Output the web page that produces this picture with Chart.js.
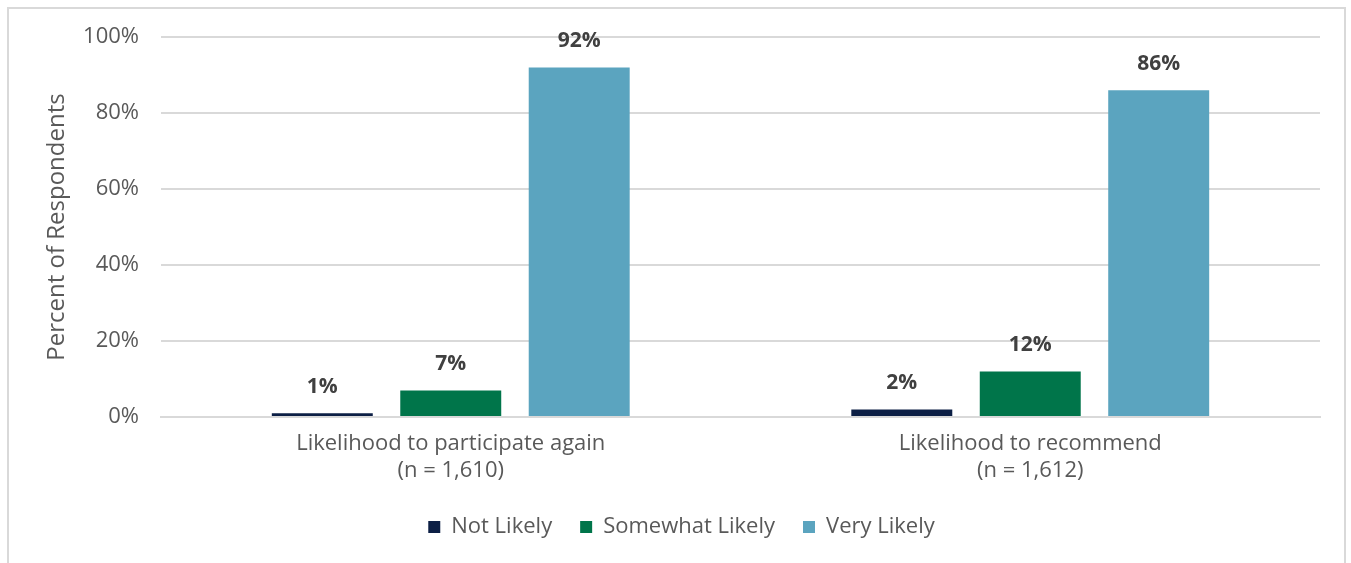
<!DOCTYPE html>
<html>
<head>
<meta charset="utf-8">
<script src="https://cdn.jsdelivr.net/npm/chart.js@4/dist/chart.umd.min.js"></script>
<style>
  html, body { margin: 0; padding: 0; background: #ffffff; overflow: hidden; }
  #wrap { position: relative; width: 1351px; height: 563px; }
  #frame { position: absolute; left: 7px; top: 7px; width: 1339px; height: 600px; border: 2px solid #d9d9d9; box-sizing: border-box; }
  #c { position: absolute; left: 0; top: 0; }
</style>
</head>
<body>
<div id="wrap">
  <div id="frame"></div>
  <canvas id="c" width="1351" height="563"></canvas>
</div>
<script>
const categories = [
  ["Likelihood to participate again", "(n = 1,610)"],
  ["Likelihood to recommend", "(n = 1,612)"]
];
const seriesNames = ["Not Likely", "Somewhat Likely", "Very Likely"];
const notLikely = [1, 2];
const somewhatLikely = [7, 12];
const veryLikely = [92, 86];
const yTicks = [0, 20, 40, 60, 80, 100];
const colors = ["#0c1f45", "#00754a", "#5ba4bf"];

const FONT = "'Open Sans', Roboto, sans-serif";

// Percent labels drawn above each bar
const valueLabels = {
  id: "valueLabels",
  afterDatasetsDraw(chart) {
    const ctx = chart.ctx;
    ctx.save();
    ctx.font = "bold 21px " + FONT;
    ctx.fillStyle = "#404040";
    ctx.textAlign = "center";
    ctx.textBaseline = "middle";
    chart.data.datasets.forEach((ds, i) => {
      const meta = chart.getDatasetMeta(i);
      meta.data.forEach((bar, j) => {
        ctx.fillText(ds.data[j] + "%", bar.x, bar.y - 26);
      });
    });
    ctx.restore();
  }
};

new Chart(document.getElementById("c"), {
  type: "bar",
  data: {
    labels: categories,
    datasets: [
      { label: seriesNames[0], data: notLikely, backgroundColor: colors[0] },
      { label: seriesNames[1], data: somewhatLikely, backgroundColor: colors[1] },
      { label: seriesNames[2], data: veryLikely, backgroundColor: colors[2] }
    ]
  },
  options: {
    responsive: false,
    animation: false,
    devicePixelRatio: 1,
    layout: { padding: { left: 43, right: 31, top: 37, bottom: 15 } },
    datasets: { bar: { categoryPercentage: 0.665, barPercentage: 0.786 } },
    plugins: {
      legend: {
        position: "bottom",
        labels: {
          font: { family: FONT, size: 22 },
          color: "#595959",
          boxWidth: 12,
          boxHeight: 12,
          padding: 28
        }
      },
      tooltip: { enabled: false }
    },
    scales: {
      x: {
        grid: { display: false, drawTicks: false },
        border: { color: "#d9d9d9", width: 2 },
        ticks: {
          font: { family: FONT, size: 22 },
          color: "#595959",
          padding: 14,
          maxRotation: 0
        },
        afterFit(s) { s.height = 71; }
      },
      y: {
        min: 0,
        max: 100,
        afterBuildTicks(s) { s.ticks = yTicks.map(v => ({ value: v })); },
        grid: { color: "#d9d9d9", lineWidth: 2, drawTicks: false },
        border: { display: false },
        ticks: {
          font: { family: FONT, size: 22 },
          color: "#595959",
          padding: 22,
          callback: v => v + "%"
        },
        title: {
          display: true,
          text: "Percent of Respondents",
          font: { family: FONT, size: 24 },
          color: "#595959",
          padding: { top: 0, bottom: 0 }
        },
        afterFit(s) { s.width = 118; }
      }
    }
  },
  plugins: [valueLabels]
});
</script>
</body>
</html>
